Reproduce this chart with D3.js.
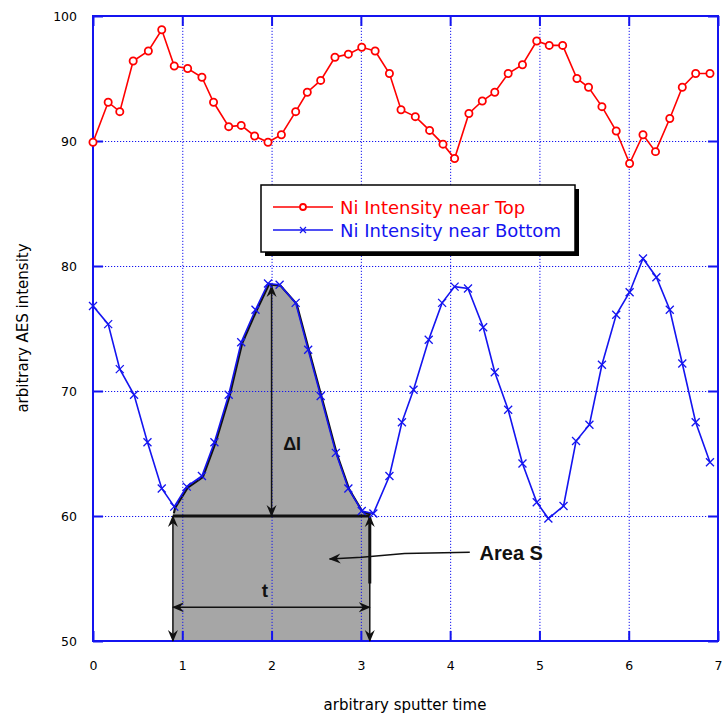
<!DOCTYPE html>
<html lang="en">
<head>
	<meta charset="UTF-8">
	<title>Ni intensity</title>
	<style>
		body { margin: 0; background: #fff; }
		svg { display: block; }
		.tick text { font-family: "DejaVu Sans", sans-serif; font-size: 12.5px; fill: #000; }
	</style>
</head>
<body>
	<svg id="cont" width="724" height="719">
		<g id="body" transform="translate(93,16)"></g>
	</svg>
<script src="https://cdn.jsdelivr.net/npm/d3@7"></script>
<script>
	// sputter time
	let timeTop = [0, 0.17, 0.30, 0.45, 0.62, 0.77, 0.91, 1.06, 1.22, 1.35, 1.52, 1.66, 1.81, 1.96,
		2.11, 2.27, 2.40, 2.55, 2.71, 2.86, 3.01, 3.16, 3.32, 3.45, 3.61, 3.77, 3.92, 4.05,
		4.21, 4.36, 4.50, 4.65, 4.81, 4.97, 5.11, 5.26, 5.42, 5.55, 5.70, 5.86, 6.01, 6.16,
		6.30, 6.46, 6.60, 6.75, 6.91]
	let niTop = [89.9, 93.1, 92.35, 96.4, 97.2, 98.9, 96.0, 95.8, 95.1, 93.1, 91.15, 91.25, 90.4, 89.9,
		90.5, 92.35, 93.9, 94.85, 96.7, 96.95, 97.5, 97.2, 95.4, 92.5, 91.95, 90.85, 89.75, 88.6,
		92.2, 93.2, 93.9, 95.4, 96.1, 98.0, 97.65, 97.65, 95.0, 94.3, 92.75, 90.8, 88.2, 90.5,
		89.15, 91.8, 94.3, 95.4, 95.4]
	let timeBottom = [0, 0.17, 0.30, 0.46, 0.61, 0.77, 0.91, 1.05, 1.22, 1.36, 1.52, 1.66, 1.82, 1.96,
		2.09, 2.27, 2.41, 2.55, 2.72, 2.86, 3.01, 3.14, 3.32, 3.46, 3.59, 3.76, 3.91, 4.05,
		4.20, 4.37, 4.50, 4.65, 4.81, 4.97, 5.10, 5.27, 5.41, 5.56, 5.70, 5.86, 6.01, 6.16,
		6.31, 6.46, 6.60, 6.75, 6.91]
	let niBottom = [76.8, 75.35, 71.75, 69.7, 65.9, 62.2, 60.75, 62.35, 63.2, 65.9, 69.7, 73.9, 76.5, 78.6,
		78.5, 77.05, 73.3, 69.6, 65.05, 62.2, 60.4, 60.2, 63.2, 67.5, 70.1, 74.1, 77.05, 78.35,
		78.2, 75.1, 71.5, 68.5, 64.2, 61.1, 59.8, 60.8, 66.0, 67.3, 72.1, 76.1, 77.9, 80.6,
		79.1, 76.5, 72.2, 67.5, 64.3]
	let xTicks = [0, 1, 2, 3, 4, 5, 6, 7]
	let yTicks = [50, 60, 70, 80, 90, 100]
	let seriesNames = ["Ni Intensity near Top", "Ni Intensity near Bottom"]

	// annotation (area S between t0 and t1, base level)
	let shadeStart = 0.895, shadeEnd = 3.10, baseLevel = 60

	let W = 625, H = 625
	let blue = "#1414f0", red = "#ff0000"
	let container = d3.select("#body")
	let svg = d3.select("#cont")

	let x = d3.scaleLinear().domain([0, 7]).range([0, W])
	let y = d3.scaleLinear().domain([50, 100]).range([H, 0])

	let topPts = timeTop.map((t, i) => ({t: t, v: niTop[i]}))
	let bottomPts = timeBottom.map((t, i) => ({t: t, v: niBottom[i]}))

	// arrow marker
	svg.append("defs").append("marker")
		.attr("id", "arr")
		.attr("viewBox", "0 0 12 10")
		.attr("refX", 11).attr("refY", 5)
		.attr("markerWidth", 12).attr("markerHeight", 11)
		.attr("markerUnits", "userSpaceOnUse")
		.attr("orient", "auto-start-reverse")
		.append("path")
		.attr("d", "M0,0 L12,5 L0,10 L4,5 z")
		.attr("fill", "#111")

	// shaded area S
	let shade = [{t: shadeStart, v: 60.3}]
		.concat(bottomPts.filter(d => d.t > shadeStart && d.t < shadeEnd))
		.concat([{t: shadeEnd, v: 60.2}])
	container.append("path")
		.datum(shade)
		.attr("fill", "#a6a6a6")
		.attr("stroke", "none")
		.attr("d", d3.area().x(d => x(d.t)).y0(y(50)).y1(d => y(d.v)))
	container.append("path")
		.datum(shade)
		.attr("fill", "none")
		.attr("stroke", "#111")
		.attr("stroke-width", 2)
		.attr("transform", "translate(1,1)")
		.attr("d", d3.line().x(d => x(d.t)).y(d => y(d.v)))

	// grid
	container.append("g")
		.attr("transform", "translate(0," + H + ")")
		.call(d3.axisBottom(x).tickValues(xTicks.slice(1, -1)).tickSize(-H).tickFormat(""))
		.call(g => g.select(".domain").remove())
		.selectAll("line").attr("stroke", blue).attr("stroke-dasharray", "1.2,1.8")
	container.append("g")
		.call(d3.axisLeft(y).tickValues(yTicks.slice(1, -1)).tickSize(-W).tickFormat(""))
		.call(g => g.select(".domain").remove())
		.selectAll("line").attr("stroke", blue).attr("stroke-dasharray", "1.2,1.8")

	// inside ticks on all four sides
	let tk = 10
	let xb = container.append("g").attr("transform", "translate(0," + H + ")")
		.call(d3.axisBottom(x).tickValues(xTicks).tickSize(-tk).tickPadding(18).tickFormat(d3.format("d")))
	let xt = container.append("g")
		.call(d3.axisTop(x).tickValues(xTicks).tickSize(-tk).tickFormat(""))
	let yl = container.append("g")
		.call(d3.axisLeft(y).tickValues(yTicks).tickSize(-tk).tickPadding(16).tickFormat(d3.format("d")))
	let yr = container.append("g").attr("transform", "translate(" + W + ",0)")
		.call(d3.axisRight(y).tickValues(yTicks).tickSize(-tk).tickFormat(""))
	;[xb, xt, yl, yr].forEach(g => {
		g.select(".domain").remove()
		g.selectAll("line").attr("stroke", blue).attr("stroke-width", 2)
	})
	xb.selectAll("text").attr("dy", "0.9em")

	container.append("rect")
		.attr("width", W).attr("height", H)
		.attr("fill", "none")
		.attr("stroke", blue)
		.attr("stroke-width", 2)

	// annotations
	let ann = container.append("g").attr("stroke", "#111").attr("fill", "none")
	ann.append("line")
		.attr("x1", x(shadeStart)).attr("x2", x(shadeEnd))
		.attr("y1", y(baseLevel)).attr("y2", y(baseLevel))
		.attr("stroke-width", 3)
	ann.append("line")
		.attr("x1", x(2.0)).attr("x2", x(2.0))
		.attr("y1", y(78.4)).attr("y2", y(baseLevel))
		.attr("stroke-width", 1.5)
		.attr("marker-start", "url(#arr)").attr("marker-end", "url(#arr)")
	;[shadeStart, shadeEnd].forEach(t => {
		ann.append("line")
			.attr("x1", x(t)).attr("x2", x(t))
			.attr("y1", y(baseLevel)).attr("y2", y(50))
			.attr("stroke-width", 1.5)
			.attr("marker-start", "url(#arr)").attr("marker-end", "url(#arr)")
	})
	ann.append("line")
		.attr("x1", x(shadeEnd)).attr("x2", x(shadeEnd))
		.attr("y1", y(baseLevel)).attr("y2", y(54.6))
		.attr("stroke-width", 3)
	ann.append("line")
		.attr("x1", x(shadeStart)).attr("x2", x(shadeEnd))
		.attr("y1", y(52.7)).attr("y2", y(52.7))
		.attr("stroke-width", 1.5)
		.attr("marker-start", "url(#arr)").attr("marker-end", "url(#arr)")
	let leader = [[4.22, 57.1], [3.49, 57.0], [3.01, 56.7], [2.65, 56.56]]
	ann.append("path")
		.attr("d", d3.line().x(d => x(d[0])).y(d => y(d[1]))(leader))
		.attr("stroke-width", 1.5)
		.attr("marker-end", "url(#arr)")

	let bold = {"font-family": "'Liberation Sans', Arial, sans-serif", "font-weight": "bold", "fill": "#111"}
	let lab = (t, v, txt, size) => {
		let e = container.append("text").attr("x", x(t)).attr("y", y(v)).attr("font-size", size).text(txt)
		Object.keys(bold).forEach(k => e.attr(k, bold[k]))
	}
	lab(4.33, 56.5, "Area S", 20)
	lab(2.13, 65.3, "\u0394I", 18)
	lab(1.89, 53.5, "t", 19)

	// series
	container.append("path")
		.datum(bottomPts)
		.attr("fill", "none").attr("stroke", blue).attr("stroke-width", 1.6)
		.attr("d", d3.line().x(d => x(d.t)).y(d => y(d.v)))
	container.append("g").selectAll("path")
		.data(bottomPts).enter().append("path")
		.attr("transform", d => "translate(" + x(d.t) + "," + y(d.v) + ")")
		.attr("d", "M-4,-4L4,4M-4,4L4,-4")
		.attr("stroke", blue).attr("stroke-width", 1.3)

	container.append("path")
		.datum(topPts)
		.attr("fill", "none").attr("stroke", red).attr("stroke-width", 1.6)
		.attr("d", d3.line().x(d => x(d.t)).y(d => y(d.v)))
	container.append("g").selectAll("circle")
		.data(topPts).enter().append("circle")
		.attr("cx", d => x(d.t)).attr("cy", d => y(d.v)).attr("r", 3.6)
		.attr("fill", "#fff").attr("stroke", red).attr("stroke-width", 1.8)

	// legend
	let lg = svg.append("g").attr("transform", "translate(261,185)")
	lg.append("rect").attr("x", 4).attr("y", 4).attr("width", 314).attr("height", 67).attr("fill", "#000")
	lg.append("rect").attr("width", 314).attr("height", 67).attr("fill", "#fff").attr("stroke", "#000").attr("stroke-width", 1.5)
	;[red, blue].forEach((c, i) => {
		let ly = 22 + i * 23
		lg.append("line").attr("x1", 12).attr("x2", 72).attr("y1", ly).attr("y2", ly).attr("stroke", c).attr("stroke-width", 1.5)
		if (i == 0) {
			lg.append("circle").attr("cx", 42).attr("cy", ly).attr("r", 3).attr("fill", "#fff").attr("stroke", c).attr("stroke-width", 1.8)
		} else {
			lg.append("path").attr("d", "M39," + (ly - 3) + "l6,6m-6,0l6,-6").attr("stroke", c).attr("stroke-width", 1.2)
		}
		lg.append("text").attr("x", 79).attr("y", ly + 6.5)
			.attr("font-family", "'DejaVu Sans', sans-serif").attr("font-size", 18)
			.attr("fill", c).text(seriesNames[i])
	})

	// axis titles
	svg.append("text")
		.attr("x", 405).attr("y", 710)
		.attr("text-anchor", "middle")
		.attr("font-family", "'DejaVu Sans', sans-serif").attr("font-size", 15)
		.text("arbitrary sputter time")
	svg.append("text")
		.attr("transform", "translate(28,328) rotate(-90)")
		.attr("text-anchor", "middle")
		.attr("font-family", "'DejaVu Sans', sans-serif").attr("font-size", 15)
		.text("arbitrary AES intensity")
</script>
</body>
</html>
